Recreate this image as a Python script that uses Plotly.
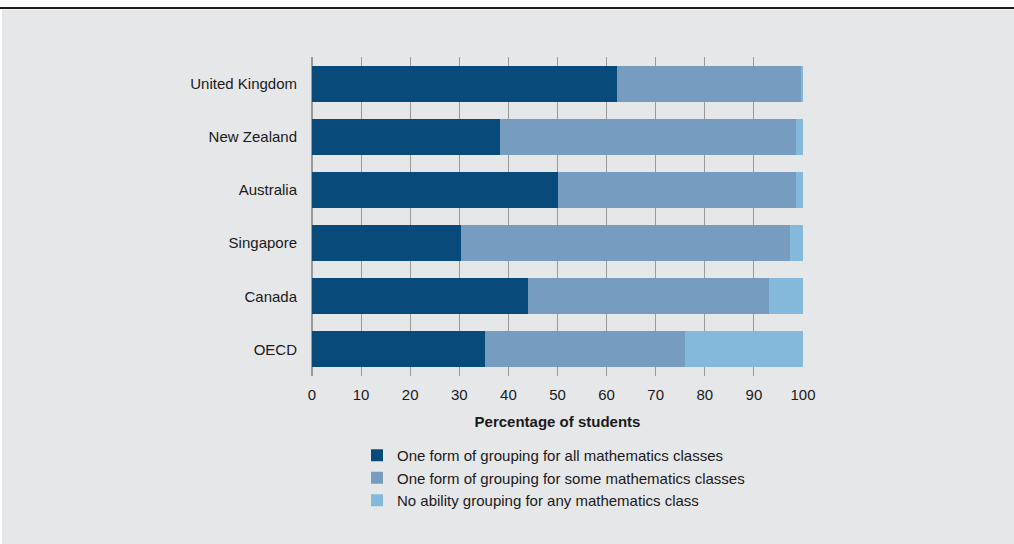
import plotly.graph_objects as go

categories = ["United Kingdom", "New Zealand", "Australia", "Singapore", "Canada", "OECD"]
all_classes = [62.1, 38.3, 50.0, 30.3, 43.9, 35.2]
some_classes = [37.4, 60.3, 48.6, 67.1, 49.1, 40.8]
no_grouping = [0.5, 1.4, 1.4, 2.6, 7.0, 24.0]
series_names = [
    "One form of grouping for all mathematics classes",
    "One form of grouping for some mathematics classes",
    "No ability grouping for any mathematics class",
]
colors = ["#084b7a", "#769cc0", "#84b9dc"]
x_ticks = list(range(0, 101, 10))

W, H = 1014, 544
L, R, T, B = 312, 803, 57, 376  # plot area pixel bounds

fig = go.Figure()
for name, vals, col in zip(series_names, [all_classes, some_classes, no_grouping], colors):
    fig.add_trace(go.Bar(
        y=categories, x=vals, name=name, orientation="h",
        marker=dict(color=col, line=dict(width=0)),
    ))

def px_x(p):
    return (p - L) / (R - L)

def px_y(p):
    return (B - p) / (B - T)

fig.update_layout(
    width=W, height=H,
    margin=dict(l=L, r=W - R, t=T, b=H - B, pad=0),
    paper_bgcolor="white",
    plot_bgcolor="rgba(0,0,0,0)",
    barmode="stack",
    bargap=0.32,
    font=dict(family="Arial, Liberation Sans, sans-serif", size=15, color="#1a1a1a"),
    showlegend=True,
    legend=dict(
        x=px_x(373 - 16), y=px_y(439), xanchor="left", yanchor="top",
        bgcolor="rgba(0,0,0,0)", traceorder="normal",
        font=dict(size=15, color="#1a1a1a"), itemwidth=30,
        tracegroupgap=0,
    ),
    shapes=[
        dict(type="rect", xref="paper", yref="paper",
             x0=px_x(2), x1=px_x(W + 5), y0=px_y(9.5), y1=px_y(H + 5),
             fillcolor="#e6e7e9", line=dict(width=0), layer="below"),
        dict(type="line", xref="paper", yref="paper",
             x0=px_x(-5), x1=px_x(W + 5), y0=px_y(8), y1=px_y(8),
             line=dict(color="#1a1a1a", width=2), layer="above"),
    ],
)

fig.update_xaxes(
    range=[0, 100], tickvals=x_ticks, ticktext=[str(v) for v in x_ticks],
    showgrid=True, gridcolor="#9a9a9a", gridwidth=1,
    zeroline=True, zerolinecolor="#9a9a9a", zerolinewidth=1.5,
    showline=False, ticks="", ticklabelstandoff=8,
    tickfont=dict(size=15, color="#1a1a1a"),
    title=dict(text="<b>Percentage of students</b>", standoff=14,
               font=dict(size=15, color="#1a1a1a")),
    fixedrange=True,
)
fig.update_yaxes(
    categoryorder="array", categoryarray=categories, autorange="reversed",
    showgrid=False, showline=False, ticks="", ticklabelstandoff=14,
    tickfont=dict(size=15, color="#1a1a1a"),
    fixedrange=True,
)

fig.write_html("out.html")
